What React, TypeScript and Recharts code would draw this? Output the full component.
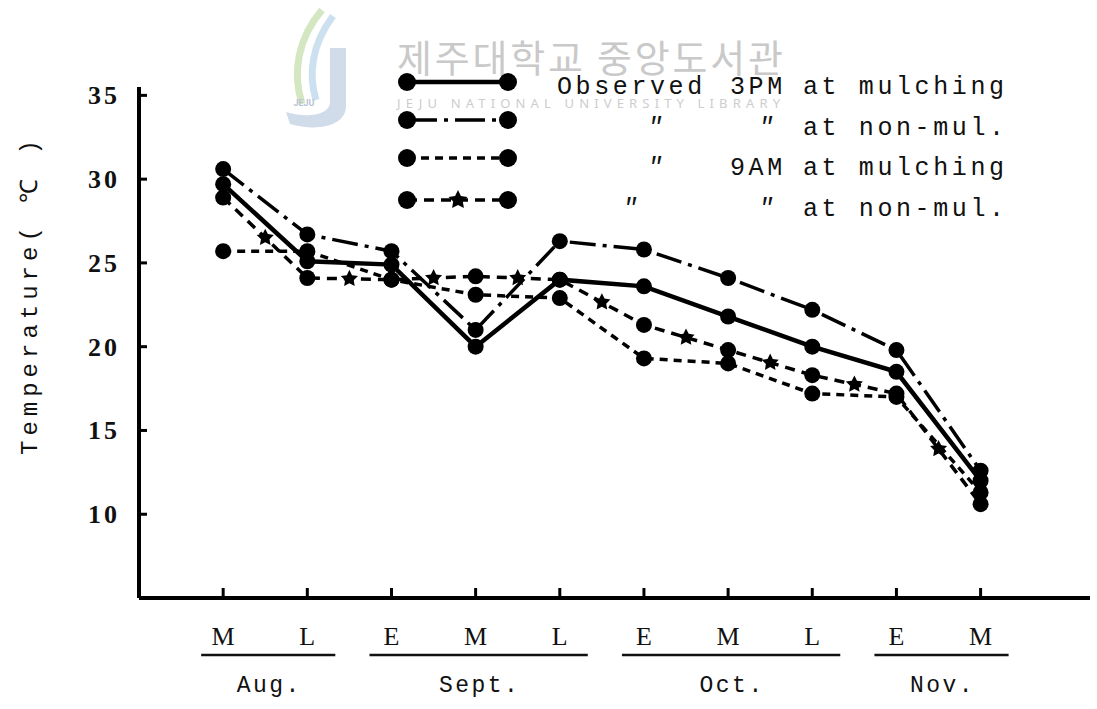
import React from 'react';
import { LineChart, Line, XAxis, YAxis, Legend } from 'recharts';

// ten-day periods (early / middle / late) from mid Aug to mid Nov
const periods = ['M', 'L', 'E', 'M', 'L', 'E', 'M', 'L', 'E', 'M'];
const months = ['Aug.', 'Sept.', 'Oct.', 'Nov.'];
const monthFirst = [0, 2, 5, 8];
const monthLast = [1, 4, 7, 9];

// temperatures (C)
const pm3Mulching = [29.7, 25.1, 24.9, 20.0, 24.0, 23.6, 21.8, 20.0, 18.5, 12.0];
const pm3NonMul = [30.6, 26.7, 25.7, 21.0, 26.3, 25.8, 24.1, 22.2, 19.8, 12.6];
const am9Mulching = [25.7, 25.7, 24.0, 23.1, 22.9, 19.3, 19.0, 17.2, 17.0, 11.3];
const am9NonMul = [28.9, 24.1, 24.0, 24.2, 24.0, 21.3, 19.8, 18.3, 17.2, 10.6];

const yTicks = [10, 15, 20, 25, 30, 35];

const legendWho = ['Observed', '\u2033', '\u2033', '\u2033'];
const legendTime = ['3PM', '\u2033', '9AM', '\u2033'];
const legendPlot = ['at mulching', 'at non-mul.', 'at mulching', 'at non-mul.'];

const data = periods.map((p, i) => ({
  idx: i,
  period: p,
  pm3Mulching: pm3Mulching[i],
  pm3NonMul: pm3NonMul[i],
  am9Mulching: am9Mulching[i],
  am9NonMul: am9NonMul[i],
}));

const monthCenters = months.map((_, k) => (monthFirst[k] + monthLast[k]) / 2);

const seriesList = [
  { key: 'pm3Mulching', name: 'Observed 3PM at mulching', dash: undefined, width: 4.5, star: false },
  { key: 'pm3NonMul', name: '3PM at non-mul.', dash: '26 7 4 7', width: 3.5, star: false },
  { key: 'am9Mulching', name: '9AM at mulching', dash: '8 6', width: 3.5, star: false },
  { key: 'am9NonMul', name: '9AM at non-mul.', dash: '10 7', width: 3.5, star: true },
];

const W = 1097;
const H = 709;
const margin = { top: 87, right: 7, bottom: 11, left: 79 };
const X_DOMAIN = [-1, 10.3];
const unitX = (W - margin.left - 60 - margin.right) / (X_DOMAIN[1] - X_DOMAIN[0]);

const mono = '"Liberation Mono", "DejaVu Sans Mono", monospace';
const serif = '"Liberation Serif", "DejaVu Serif", serif';

const starPath = (x: number, y: number, ro: number, ri: number) => {
  let d = '';
  for (let k = 0; k < 10; k++) {
    const r = k % 2 === 0 ? ro : ri;
    const a = -Math.PI / 2 + (k * Math.PI) / 5;
    d += (k === 0 ? 'M' : 'L') + (x + r * Math.cos(a)).toFixed(1) + ',' + (y + r * Math.sin(a)).toFixed(1);
  }
  return d + 'Z';
};

const PlainDot = (props: any) => {
  const { cx, cy } = props;
  return <circle cx={cx} cy={cy} r={8} fill="#000" />;
};

// 9AM non-mul. has a cross mark half way along every segment
const StarDot = (props: any) => {
  const { cx, cy, index, points } = props;
  const next = points && points[index + 1];
  return (
    <g>
      <circle cx={cx} cy={cy} r={8} fill="#000" />
      {next && <path d={starPath((cx + next.x) / 2, (cy + next.y) / 2, 9, 4.5)} fill="#000" />}
    </g>
  );
};

const PeriodTick = (props: any) => {
  const { x, y, payload } = props;
  return (
    <g>
      <line x1={x} y1={y} x2={x} y2={y - 10} stroke="#000" strokeWidth={3} />
      <text x={x} y={y + 47} textAnchor="middle" fontFamily={serif} fontSize={26} fill="#111">
        {periods[payload.value]}
      </text>
    </g>
  );
};

const MonthTick = (props: any) => {
  const { x, y, index } = props;
  const half = ((monthLast[index] - monthFirst[index]) / 2) * unitX;
  return (
    <g>
      <line x1={x - half - 22} y1={y + 7} x2={x + half + 28} y2={y + 7} stroke="#111" strokeWidth={2.5} />
      <text x={x + 4} y={y + 44} textAnchor="middle" fontFamily={mono} fontSize={23} letterSpacing={2.5} fill="#111">
        {months[index]}
      </text>
    </g>
  );
};

const TempTick = (props: any) => {
  const { x, y, payload } = props;
  return (
    <g>
      <line x1={x} y1={y} x2={x + 8} y2={y} stroke="#000" strokeWidth={3} />
      <text x={x - 19} y={y + 9} textAnchor="end" fontFamily={serif} fontWeight="bold" fontSize={26} letterSpacing={3} fill="#111">
        {payload.value}
      </text>
    </g>
  );
};

const YTitle = () => (
  <text
    transform="translate(37,295) rotate(-90)"
    textAnchor="middle"
    fontFamily={mono}
    fontSize={24}
    letterSpacing={5}
    fill="#111"
  >
    Temperature( ℃ )
  </text>
);

const LegendBox = () => {
  const rowsY = [82, 120, 158, 200];
  const textY = [94, 135, 175, 216];
  return (
    <svg width={W} height={240} style={{ overflow: 'visible' }}>
      {seriesList.map((s, i) => (
        <g key={s.key}>
          <line x1={407} y1={rowsY[i]} x2={508} y2={rowsY[i]} stroke="#000" strokeWidth={s.width} strokeDasharray={i === 1 ? '30 7 4 7' : s.dash} />
          <circle cx={407} cy={rowsY[i]} r={9} fill="#000" />
          <circle cx={508} cy={rowsY[i]} r={9} fill="#000" />
          {s.star && <path d={starPath(458, rowsY[i], 10, 5)} fill="#000" />}
        </g>
      ))}
      {legendWho.map((t, i) => (
        <text key={'w' + i} x={i === 0 ? 557 : i === 3 ? 630 : 655} y={textY[i]} textAnchor={i === 0 ? 'start' : 'middle'} fontFamily={mono} fontSize={25} letterSpacing={i === 0 ? 3.6 : 0} fontStyle={i === 0 ? 'normal' : 'italic'} fill="#111">
          {t}
        </text>
      ))}
      {legendTime.map((t, i) => (
        <text key={'t' + i} x={t.length > 1 ? 730 : 766} y={textY[i]} textAnchor={t.length > 1 ? 'start' : 'middle'} fontFamily={mono} fontSize={25} letterSpacing={t.length > 1 ? 3.6 : 0} fontStyle={t.length > 1 ? 'normal' : 'italic'} fill="#111">
          {t}
        </text>
      ))}
      {legendPlot.map((t, i) => (
        <text key={'p' + i} x={803} y={textY[i]} fontFamily={mono} fontSize={25} letterSpacing={3.6} fill="#111">
          {t}
        </text>
      ))}
    </svg>
  );
};

// faint library stamp behind the legend
const Watermark = () => (
  <svg width={W} height={H} style={{ position: 'absolute', left: 0, top: 0 }}>
    <path d="M322,10 C298,38 292,72 302,104" stroke="#d4e6c2" strokeWidth={7} fill="none" />
    <path d="M333,16 C312,44 308,74 316,100" stroke="#cde0f0" strokeWidth={7} fill="none" />
    <path d="M346,48 L346,106 C346,126 318,132 290,124 L286,112 C304,118 330,116 330,102 L330,48 Z" fill="#d1dcea" />
    <text x={304} y={106} textAnchor="middle" fontFamily="Roboto, sans-serif" fontSize={9} fontWeight="bold" fill="#b7c5d6">JEJU</text>
    <text x={397} y={72} fontFamily='"Noto Sans CJK KR", sans-serif' fontSize={38} fill="#c9c9c9" textLength={386} lengthAdjust="spacing">
      제주대학교 중앙도서관
    </text>
    <text x={397} y={108} fontFamily='"Noto Sans", sans-serif' fontSize={13} fill="#cdcdcd" textLength={383} lengthAdjust="spacing">
      JEJU NATIONAL UNIVERSITY LIBRARY
    </text>
  </svg>
);

const App = () => {
  return (
    <div style={{ position: 'absolute', left: 0, top: 0, width: W, height: H, background: '#fff' }}>
      <Watermark />
      <div style={{ position: 'absolute', left: 0, top: 0 }}>
        <LineChart width={W} height={H} data={data} margin={margin}>
          <XAxis
            dataKey="idx"
            type="number"
            domain={X_DOMAIN}
            ticks={periods.map((_, i) => i)}
            interval={0}
            height={50}
            tickSize={0}
            tickMargin={0}
            axisLine={{ stroke: '#000', strokeWidth: 4 }}
            tick={<PeriodTick />}
          />
          <XAxis
            xAxisId="month"
            dataKey="idx"
            type="number"
            domain={X_DOMAIN}
            ticks={monthCenters}
            interval={0}
            height={50}
            tickSize={0}
            tickMargin={0}
            axisLine={false}
            tick={<MonthTick />}
          />
          <YAxis
            type="number"
            domain={[5, 35.5]}
            ticks={yTicks}
            interval={0}
            width={60}
            tickSize={0}
            tickMargin={0}
            axisLine={{ stroke: '#000', strokeWidth: 4 }}
            tick={<TempTick />}
            label={<YTitle />}
          />
          <Legend
            layout="vertical"
            align="center"
            verticalAlign="middle"
            wrapperStyle={{ left: 0, top: 0, width: W, height: 240, pointerEvents: 'none' }}
            content={() => <LegendBox />}
          />
          {seriesList.map((s) => (
            <Line
              key={s.key}
              type="linear"
              dataKey={s.key}
              name={s.name}
              stroke="#000"
              strokeWidth={s.width}
              strokeDasharray={s.dash}
              dot={s.star ? <StarDot /> : <PlainDot />}
              activeDot={false}
              isAnimationActive={false}
            />
          ))}
        </LineChart>
      </div>
    </div>
  );
};

export default App;
